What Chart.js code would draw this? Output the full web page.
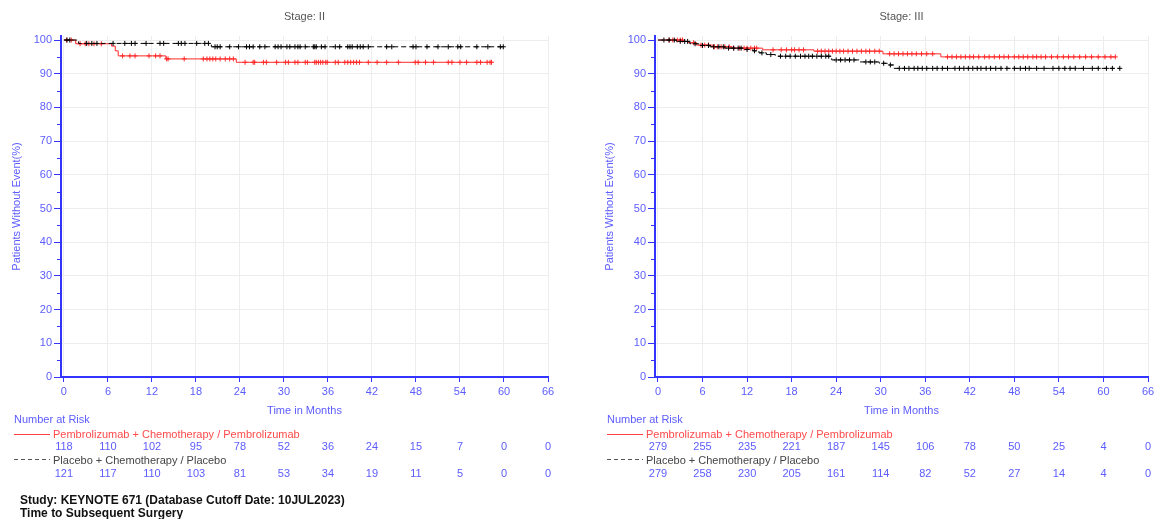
<!DOCTYPE html>
<html>
<head>
<meta charset="utf-8">
<script src="https://cdn.jsdelivr.net/npm/chart.js@4.4.0/dist/chart.umd.min.js"></script>
<style>
    html, body { margin: 0; padding: 0; background: #fff; }
    #wrap { position: relative; width: 1162px; height: 519px; overflow: hidden; }
    #wrap canvas { position: absolute; top: 0; }
    #stage2 { left: 0; }
    #stage3 { left: 581px; }
</style>
</head>
<body>
<div id="wrap">
    <canvas id="stage2" width="581" height="519"></canvas>
    <canvas id="stage3" width="581" height="519"></canvas>
</div>
<script>
// Axis ticks
const xTicks = [0, 6, 12, 18, 24, 30, 36, 42, 48, 54, 60, 66];
const yTicks = [0, 10, 20, 30, 40, 50, 60, 70, 80, 90, 100];
const yMinorTicks = [5, 15, 25, 35, 45, 55, 65, 75, 85, 95];

// Stage II - Kaplan-Meier steps (time in months, % without event)
const s2PembroTimes = [0, 1.6, 6.5, 7.0, 7.4, 13.9, 23.5, 58.3];
const s2PembroSurv = [100, 98.9, 98.2, 96.8, 95.3, 94.4, 93.4, 93.4];
const s2PlaceboTimes = [0, 2.0, 20.1, 59.9];
const s2PlaceboSurv = [100, 99.0, 98.0, 98.0];
const s2PembroCensor = [0.4, 1.0, 2.2, 2.9, 3.4, 4.1, 5.1, 8.0, 9.0, 9.7, 11.6, 12.5, 13.1, 14.0, 14.2, 16.4, 19.0, 19.5, 19.9, 20.3, 20.7, 21.3, 22.0, 22.6, 23.1, 24.7, 25.8, 26.0, 27.2, 27.6, 29.0, 30.2, 30.6, 31.5, 31.9, 32.9, 33.2, 34.2, 34.4, 34.7, 35.0, 35.3, 35.7, 35.9, 37.0, 37.4, 38.3, 38.7, 39.1, 39.5, 39.9, 40.3, 41.5, 42.7, 44.0, 45.6, 47.9, 48.3, 49.3, 50.4, 52.4, 52.9, 54.0, 54.9, 56.3, 56.8, 57.7, 58.1, 58.3];
const s2PlaceboCensor = [0.4, 0.8, 3.1, 3.8, 4.5, 6.7, 8.3, 9.2, 9.7, 11.2, 13.1, 13.6, 15.6, 16.0, 16.5, 18.1, 19.2, 19.7, 20.6, 20.9, 21.3, 22.6, 23.8, 24.9, 25.3, 25.8, 26.7, 27.4, 28.8, 29.2, 29.6, 30.4, 30.8, 31.5, 31.9, 32.2, 32.9, 34.0, 34.2, 34.4, 35.1, 35.6, 37.0, 37.6, 38.7, 39.0, 39.3, 40.0, 40.4, 40.8, 41.5, 44.0, 44.7, 47.6, 48.0, 49.5, 51.0, 52.4, 53.7, 54.1, 56.3, 57.8, 59.5, 59.9];
const s2PembroRisk = [118, 110, 102, 95, 78, 52, 36, 24, 15, 7, 0, 0];
const s2PlaceboRisk = [121, 117, 110, 103, 81, 53, 34, 19, 11, 5, 0, 0];

// Stage III
const s3PembroTimes = [0, 3.4, 4.0, 5.2, 7.4, 10.0, 14.1, 21.0, 30.3, 38.1, 61.6];
const s3PembroSurv = [100, 99.6, 99.2, 98.5, 98.0, 97.6, 97.1, 96.7, 95.9, 95.0, 95.0];
const s3PlaceboTimes = [0, 2.5, 4.3, 5.5, 7.0, 9.0, 11.5, 12.8, 13.6, 14.6, 15.8, 23.4, 27.1, 29.8, 30.9, 31.8, 62.2];
const s3PlaceboSurv = [100, 99.6, 98.9, 98.4, 98.0, 97.6, 97.2, 96.8, 96.2, 95.7, 95.2, 94.1, 93.5, 93.1, 92.6, 91.6, 91.6];
const s3PembroCensor = [1.5, 2.0, 2.6, 3.0, 3.3, 4.8, 5.8, 6.3, 6.8, 7.6, 8.0, 8.5, 9.0, 9.6, 10.2, 11.0, 11.6, 12.0, 12.5, 13.0, 13.3, 15.5, 16.6, 17.3, 18.0, 18.4, 19.0, 19.6, 21.5, 22.0, 22.5, 23.0, 23.5, 24.0, 24.5, 25.0, 25.6, 26.2, 26.8, 27.4, 28.0, 28.5, 29.2, 29.8, 31.2, 31.8, 32.4, 33.0, 33.6, 34.2, 34.8, 35.5, 36.2, 37.0, 39.0, 39.6, 40.2, 40.8, 41.4, 42.0, 42.5, 43.2, 44.0, 44.6, 45.3, 46.0, 46.6, 47.2, 48.0, 48.6, 49.2, 49.8, 50.5, 51.0, 51.6, 52.2, 53.0, 53.8, 54.6, 55.3, 56.0, 56.8, 57.6, 58.4, 59.3, 60.2, 61.0, 61.6];
const s3PlaceboCensor = [0.8, 1.5, 2.2, 3.0, 3.6, 4.0, 5.0, 6.0, 6.8, 7.5, 8.2, 8.8, 9.5, 10.2, 10.8, 11.2, 12.0, 13.0, 14.0, 15.2, 16.5, 17.2, 17.8, 18.5, 19.2, 19.8, 20.3, 20.8, 21.4, 22.0, 22.6, 23.0, 24.0, 24.6, 25.2, 25.8, 26.4, 28.0, 28.6, 29.2, 30.4, 31.3, 32.5, 33.2, 33.8, 34.5, 35.0, 35.6, 36.2, 37.0, 37.6, 38.3, 39.0, 40.0, 40.6, 41.2, 41.8, 42.4, 43.0, 43.5, 44.2, 44.8, 45.5, 46.2, 47.0, 48.0, 48.8, 49.5, 50.0, 51.0, 52.0, 53.2, 54.0, 54.8, 55.5, 56.2, 57.3, 58.5, 59.3, 60.4, 61.2, 62.2];
const s3PembroRisk = [279, 255, 235, 221, 187, 145, 106, 78, 50, 25, 4, 0];
const s3PlaceboRisk = [279, 258, 230, 205, 161, 114, 82, 52, 27, 14, 4, 0];

const pembroLabel = 'Pembrolizumab + Chemotherapy / Pembrolizumab';
const placeboLabel = 'Placebo + Chemotherapy / Placebo';

const FONT = 'Liberation Sans';
const BLUE_TEXT = '#5c5cff';
const BLUE_AXIS = '#3434ff';

function stepPoints(times, surv) {
    return times.map((t, i) => ({ x: t, y: surv[i] }));
}

// value of the step curve at time t
function survAt(times, surv, t) {
    let v = surv[0];
    for (let i = 0; i < times.length; i++) {
        if (times[i] <= t) v = surv[i];
    }
    return v;
}

function censorPoints(censor, times, surv) {
    return censor.map(t => ({ x: t, y: survAt(times, surv, t) }));
}

// Draws title, minor ticks, number at risk table and footer
function extrasPlugin(s) {
    return {
        id: 'kmExtras',
        afterDraw(chart) {
            const ctx = chart.ctx;
            const area = chart.chartArea;
            const xs = chart.scales.x;
            const ys = chart.scales.y;
            ctx.save();

            // panel title
            ctx.fillStyle = '#555';
            ctx.font = '11px "' + FONT + '"';
            ctx.textAlign = 'center';
            ctx.textBaseline = 'middle';
            ctx.fillText(s.title, (area.left + area.right) / 2, 17);

            // minor ticks on y axis
            ctx.strokeStyle = BLUE_AXIS;
            ctx.lineWidth = 1;
            yMinorTicks.forEach(v => {
                const y = Math.round(ys.getPixelForValue(v)) + 0.5;
                ctx.beginPath();
                ctx.moveTo(area.left - 4, y);
                ctx.lineTo(area.left, y);
                ctx.stroke();
            });

            // number at risk
            ctx.textAlign = 'left';
            ctx.fillStyle = BLUE_TEXT;
            ctx.fillText('Number at Risk', s.tableX, 420);

            ctx.strokeStyle = '#ff4040';
            ctx.beginPath();
            ctx.moveTo(s.tableX, 434.5);
            ctx.lineTo(s.lineEnd, 434.5);
            ctx.stroke();
            ctx.fillStyle = '#ff4a4a';
            ctx.fillText(pembroLabel, s.lineEnd + 3, 435);

            ctx.strokeStyle = '#555';
            ctx.setLineDash([4, 3]);
            ctx.beginPath();
            ctx.moveTo(s.tableX, 459.5);
            ctx.lineTo(s.lineEnd, 459.5);
            ctx.stroke();
            ctx.setLineDash([]);
            ctx.fillStyle = '#444';
            ctx.fillText(placeboLabel, s.lineEnd + 3, 461);

            ctx.textAlign = 'center';
            ctx.fillStyle = BLUE_TEXT;
            xTicks.forEach((t, i) => {
                const x = xs.getPixelForValue(t);
                ctx.fillText(String(s.pembroRisk[i]), x, 447);
                ctx.fillText(String(s.placeboRisk[i]), x, 474);
            });

            // footer
            if (s.footer) {
                ctx.textAlign = 'left';
                ctx.fillStyle = '#111';
                ctx.font = 'bold 12px "' + FONT + '"';
                ctx.fillText(s.footer[0], 20, 501);
                ctx.fillText(s.footer[1], 20, 514);
            }
            ctx.restore();
        }
    };
}

function drawKM(canvasId, s) {
    const ctx = document.getElementById(canvasId).getContext('2d');
    const tickFont = { family: FONT, size: 11 };
    return new Chart(ctx, {
        type: 'scatter',
        data: {
            datasets: [
                {
                    data: stepPoints(s.placeboTimes, s.placeboSurv),
                    showLine: true,
                    stepped: 'before',
                    borderColor: '#000',
                    borderWidth: 1,
                    borderDash: [5, 3],
                    pointRadius: 0
                },
                {
                    data: censorPoints(s.placeboCensor, s.placeboTimes, s.placeboSurv),
                    pointStyle: 'cross',
                    pointRadius: 2.5,
                    borderColor: '#000',
                    borderWidth: 1
                },
                {
                    data: stepPoints(s.pembroTimes, s.pembroSurv),
                    showLine: true,
                    stepped: 'before',
                    borderColor: '#ff2a2a',
                    borderWidth: 1,
                    pointRadius: 0
                },
                {
                    data: censorPoints(s.pembroCensor, s.pembroTimes, s.pembroSurv),
                    pointStyle: 'cross',
                    pointRadius: 2.5,
                    borderColor: '#ff2a2a',
                    borderWidth: 1
                }
            ]
        },
        options: {
            responsive: false,
            animation: false,
            layout: { padding: { left: 0, right: s.padRight, top: 36, bottom: 97 } },
            plugins: {
                legend: { display: false },
                tooltip: { enabled: false },
                title: { display: false }
            },
            scales: {
                x: {
                    type: 'linear',
                    min: -0.4,
                    max: 66,
                    afterBuildTicks: function(scale) {
                        scale.ticks = xTicks.map(v => ({ value: v }));
                    },
                    afterFit: function(scale) {
                        scale.height = 45;
                    },
                    grid: { color: '#ededed', tickColor: BLUE_AXIS, tickLength: 5 },
                    border: { color: BLUE_AXIS, width: 2 },
                    ticks: { color: BLUE_TEXT, font: tickFont, padding: 3, maxRotation: 0, autoSkip: false },
                    title: {
                        display: true,
                        text: 'Time in Months',
                        color: BLUE_TEXT,
                        font: tickFont,
                        padding: { top: 0, bottom: 4 }
                    }
                },
                y: {
                    type: 'linear',
                    min: 0,
                    max: 101.2,
                    afterBuildTicks: function(scale) {
                        scale.ticks = yTicks.map(v => ({ value: v }));
                    },
                    afterFit: function(scale) {
                        scale.width = s.axisWidth;
                    },
                    grid: { color: '#ededed', tickColor: BLUE_AXIS, tickLength: 7 },
                    border: { color: BLUE_AXIS, width: 2 },
                    ticks: { color: BLUE_TEXT, font: tickFont, padding: 2 },
                    title: {
                        display: true,
                        text: 'Patients Without Event(%)',
                        color: BLUE_TEXT,
                        font: tickFont,
                        padding: { top: s.yTitlePad, bottom: 0 }
                    }
                }
            }
        },
        plugins: [extrasPlugin(s)]
    });
}

drawKM('stage2', {
    title: 'Stage: II',
    pembroTimes: s2PembroTimes, pembroSurv: s2PembroSurv, pembroCensor: s2PembroCensor,
    placeboTimes: s2PlaceboTimes, placeboSurv: s2PlaceboSurv, placeboCensor: s2PlaceboCensor,
    pembroRisk: s2PembroRisk, placeboRisk: s2PlaceboRisk,
    axisWidth: 61, padRight: 33, yTitlePad: 10,
    tableX: 14, lineEnd: 50,
    footer: ['Study: KEYNOTE 671 (Database Cutoff Date: 10JUL2023)', 'Time to Subsequent Surgery']
});

drawKM('stage3', {
    title: 'Stage: III',
    pembroTimes: s3PembroTimes, pembroSurv: s3PembroSurv, pembroCensor: s3PembroCensor,
    placeboTimes: s3PlaceboTimes, placeboSurv: s3PlaceboSurv, placeboCensor: s3PlaceboCensor,
    pembroRisk: s3PembroRisk, placeboRisk: s3PlaceboRisk,
    axisWidth: 74, padRight: 14, yTitlePad: 22,
    tableX: 26, lineEnd: 62,
    footer: null
});
</script>
</body>
</html>
